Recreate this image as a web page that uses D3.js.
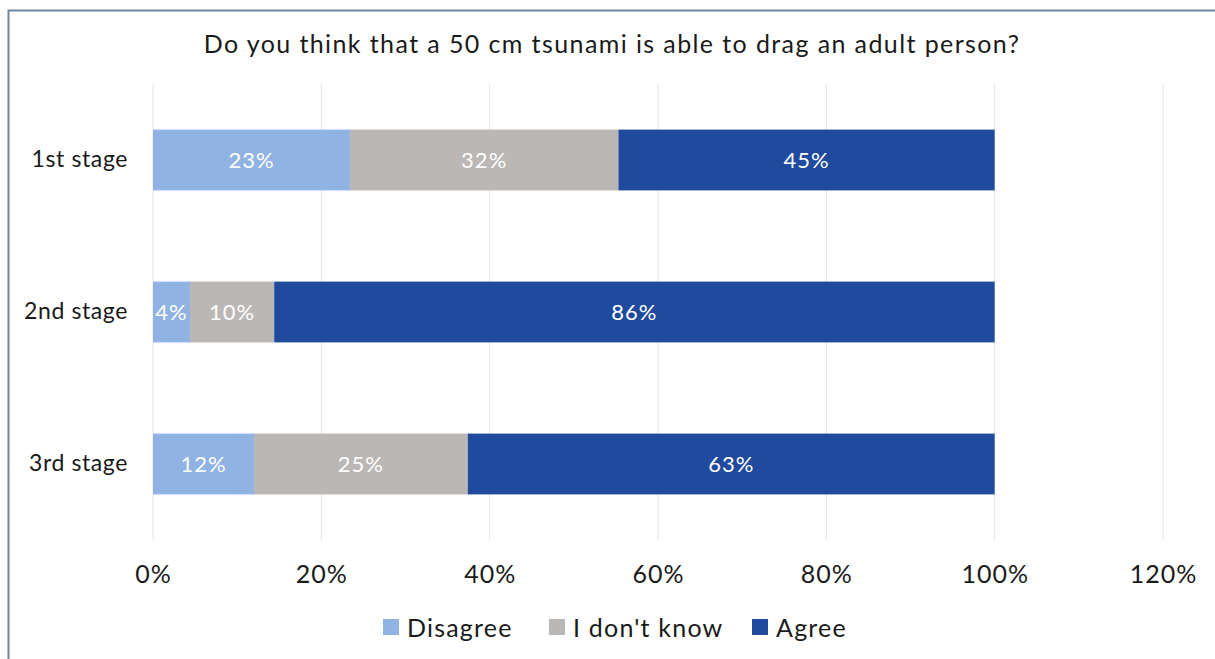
<!DOCTYPE html>
<html><head><meta charset="utf-8">
<script src="https://cdn.jsdelivr.net/npm/d3@7"></script>
<style>
html,body{margin:0;padding:0;background:#fff;}
svg{display:block;font-family:Lato,"Noto Sans",sans-serif;}
</style></head>
<body>
<svg id="c" width="1215" height="659"></svg>
<script>
const categories = ["1st stage", "2nd stage", "3rd stage"];
const seriesNames = ["Disagree", "I don't know", "Agree"];
const disagree = [0.234, 0.044, 0.120];
const dontKnow = [0.319, 0.100, 0.254];
const agree = [0.447, 0.856, 0.626];
const tickValues = [0, 0.2, 0.4, 0.6, 0.8, 1.0, 1.2];
const colors = ["#90b3e3", "#bbb7b5", "#1f4a9d"];
const title = "Do you think that a 50 cm tsunami is able to drag an adult person?";

const svg = d3.select("#c");
svg.append("rect").attr("x", 8.5).attr("y", 10.5).attr("width", 1220).attr("height", 670)
  .attr("fill", "#fff").attr("stroke", "#71869a").attr("stroke-width", 2);

const x = d3.scaleLinear().domain([0, 1.2]).range([153, 1163]);
const y = d3.scaleBand().domain(categories).range([84, 540]).paddingInner(0.6).paddingOuter(0.3);

svg.append("g").selectAll("line").data(tickValues).join("line")
  .attr("x1", d => x(d)).attr("x2", d => x(d)).attr("y1", 84).attr("y2", 540)
  .attr("stroke", "#e3e3e3").attr("stroke-width", 1);

const rows = categories.map((c, i) => ({cat: c, Disagree: disagree[i], "I don't know": dontKnow[i], Agree: agree[i]}));
const stacked = d3.stack().keys(seriesNames)(rows);

const g = svg.append("g");
stacked.forEach((layer, si) => {
  g.selectAll(null).data(layer).join("rect")
    .attr("x", d => x(d[0])).attr("width", d => x(d[1]) - x(d[0]))
    .attr("y", d => y(d.data.cat)).attr("height", y.bandwidth())
    .attr("fill", colors[si]);
  g.selectAll(null).data(layer).join("text")
    .attr("x", d => (x(d[0]) + x(d[1])) / 2)
    .attr("y", d => y(d.data.cat) + y.bandwidth() / 2)
    .attr("dy", "0.35em").attr("text-anchor", "middle")
    .attr("fill", "#fff").attr("font-size", 22).attr("letter-spacing", 1)
    .text(d => Math.round((d[1] - d[0]) * 100) + "%");
});

const yAxis = d3.axisLeft(y).tickSize(0).tickPadding(25);
const ya = svg.append("g").attr("transform", "translate(153,0)").call(yAxis);
ya.select(".domain").remove();
ya.selectAll("text").attr("font-size", 23).attr("letter-spacing", 0.6).attr("fill", "#1a1a1a").attr("font-family", "Lato,'Noto Sans',sans-serif");

const xAxis = d3.axisBottom(x).tickValues(tickValues).tickSize(0).tickPadding(0).tickFormat(d3.format(".0%"));
const xa = svg.append("g").attr("transform", "translate(0,565)").call(xAxis);
xa.select(".domain").remove();
xa.selectAll("text").attr("font-size", 25).attr("letter-spacing", 1).attr("fill", "#1a1a1a").attr("font-family", "Lato,'Noto Sans',sans-serif");

svg.append("text").attr("x", 612).attr("y", 53).attr("text-anchor", "middle")
  .attr("font-size", 25).attr("letter-spacing", 1.4).attr("fill", "#1a1a1a").text(title);

const legX = [383, 549, 752];
const leg = svg.append("g");
seriesNames.forEach((n, i) => {
  leg.append("rect").attr("x", legX[i]).attr("y", 619).attr("width", 16).attr("height", 16).attr("fill", colors[i]);
  leg.append("text").attr("x", legX[i] + 24).attr("y", 637).attr("font-size", 25).attr("letter-spacing", 1.2).attr("fill", "#1a1a1a").text(n);
});
</script>
</body></html>
